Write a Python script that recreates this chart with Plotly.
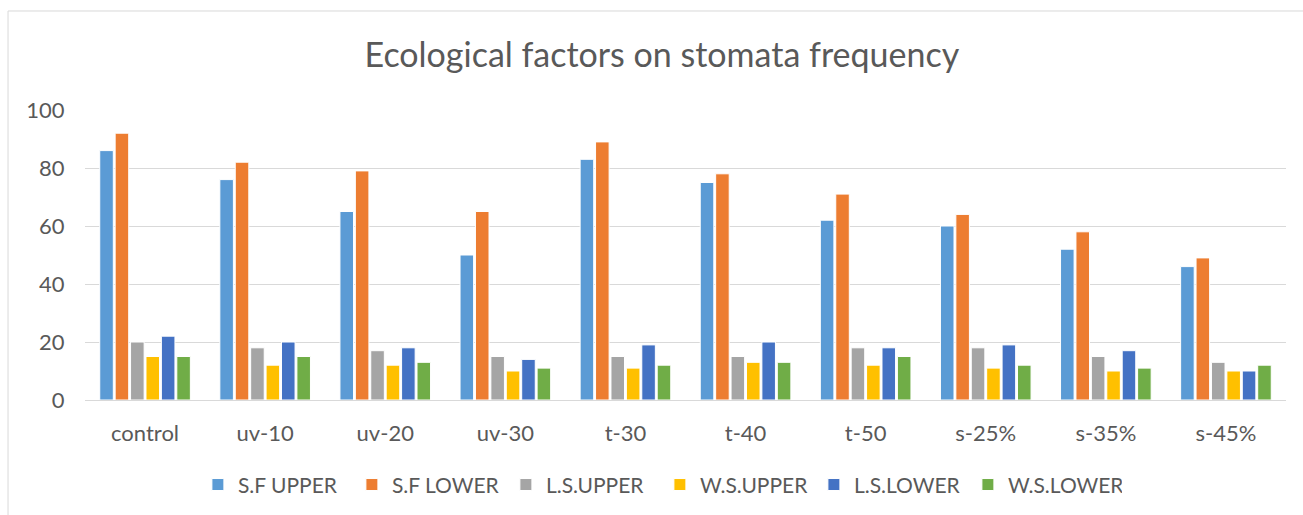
import plotly.graph_objects as go

categories = ["control", "uv-10", "uv-20", "uv-30", "t-30", "t-40", "t-50", "s-25%", "s-35%", "s-45%"]
sf_upper = [86, 76, 65, 50, 83, 75, 62, 60, 52, 46]
sf_lower = [92, 82, 79, 65, 89, 78, 71, 64, 58, 49]
ls_upper = [20, 18, 17, 15, 15, 15, 18, 18, 15, 13]
ws_upper = [15, 12, 12, 10, 11, 13, 12, 11, 10, 10]
ls_lower = [22, 20, 18, 14, 19, 20, 18, 19, 17, 10]
ws_lower = [15, 15, 13, 11, 12, 13, 15, 12, 11, 12]
y_ticks = [0, 20, 40, 60, 80, 100]

series = [
    ("S.F UPPER", sf_upper, "#5B9BD5"),
    ("S.F LOWER", sf_lower, "#ED7D31"),
    ("L.S.UPPER", ls_upper, "#A5A5A5"),
    ("W.S.UPPER", ws_upper, "#FFC000"),
    ("L.S.LOWER", ls_lower, "#4472C4"),
    ("W.S.LOWER", ws_lower, "#70AD47"),
]

FONT = "Lato"
TXT = "#595959"

fig = go.Figure()
for name, vals, col in series:
    fig.add_trace(go.Bar(name=name, x=categories, y=vals,
                         marker=dict(color=col, line=dict(color="white", width=1))))

fig.update_layout(
    width=1303, height=515,
    margin=dict(l=85, r=17, t=110, b=115, autoexpand=False),
    paper_bgcolor="white", plot_bgcolor="white",
    barmode="group", bargap=0.23, bargroupgap=0.12,
    title=dict(text="Ecological factors on stomata frequency", x=0.508, xanchor="center",
               y=1 - 55 / 515, yanchor="middle",
               font=dict(family=FONT, size=34, color=TXT)),
    font=dict(family=FONT, color=TXT),
    xaxis=dict(showgrid=False, showline=True, linecolor="#D9D9D9", linewidth=1,
               ticks="outside", ticklen=14, tickcolor="rgba(0,0,0,0)",
               tickfont=dict(family=FONT, size=22, color=TXT)),
    yaxis=dict(range=[0, 100], tickvals=y_ticks, showgrid=True, gridcolor="#D9D9D9",
               gridwidth=1, zeroline=False, showline=False,
               ticks="outside", ticklen=15, tickcolor="rgba(0,0,0,0)",
               tickfont=dict(family=FONT, size=22, color=TXT)),
    legend=dict(orientation="h", x=0.094, xanchor="left", y=-0.222, yanchor="top",
                font=dict(family=FONT, size=21, color=TXT),
                entrywidth=109, entrywidthmode="pixels", itemwidth=30,
                traceorder="normal"),
    showlegend=True,
)

# chart-area border (left and top edges visible in the reference)
fig.add_shape(type="line", xref="paper", yref="paper", x0=-0.0641, x1=-0.0641, y0=-0.5, y1=1.3414,
              line=dict(color="#D9D9D9", width=1))
fig.add_shape(type="line", xref="paper", yref="paper", x0=-0.0641, x1=1.1, y0=1.3414, y1=1.3414,
              line=dict(color="#D9D9D9", width=1))

fig.write_html("out.html", config={"displayModeBar": False},
               post_script="document.body.style.margin='0';")
